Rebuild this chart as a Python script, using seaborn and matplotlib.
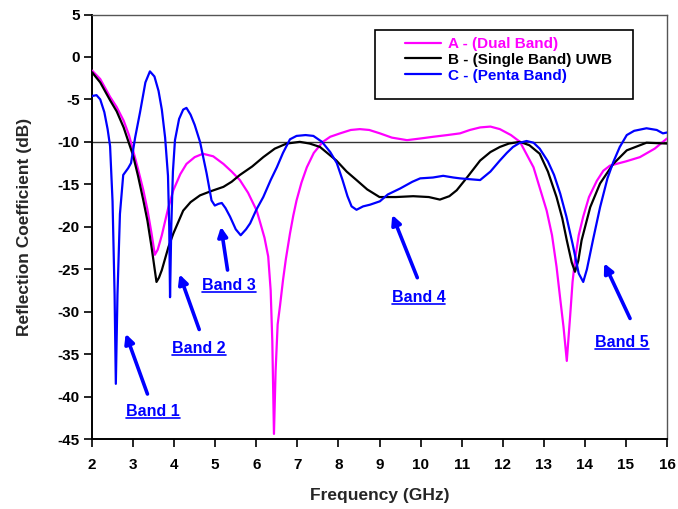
import matplotlib
matplotlib.use("Agg")
from matplotlib import pyplot as plt
from matplotlib.lines import Line2D
from matplotlib.patches import Rectangle
import numpy as np
import pandas
import seaborn as sns

# --- data ---
freq_a = [2.0, 2.2, 2.44, 2.6, 2.77, 2.9, 3.0, 3.12, 3.25, 3.35, 3.45, 3.53, 3.6, 3.7,
          3.85, 3.98, 4.15, 4.3, 4.5, 4.7, 4.95, 5.2, 5.4, 5.6, 5.8, 6.01, 6.1, 6.2,
          6.29, 6.35, 6.39, 6.43, 6.47, 6.52, 6.58, 6.65, 6.72, 6.82, 6.9, 6.98, 7.1,
          7.23, 7.4, 7.62, 7.8, 8.04, 8.3, 8.52, 8.75, 9.01, 9.3, 9.67, 10.0, 10.31,
          10.65, 10.96, 11.2, 11.45, 11.7, 11.93, 12.2, 12.42, 12.75, 13.07, 13.2,
          13.31, 13.4, 13.48, 13.56, 13.64, 13.7, 13.76, 13.85, 13.96, 14.1, 14.29,
          14.45, 14.61, 15.0, 15.34, 15.7, 16.0]
refl_a = [-1.6, -2.6, -4.7, -5.9, -7.5, -9.2, -11.0, -13.2, -15.7, -18.0, -20.8, -23.3,
          -22.7, -21.0, -17.9, -15.7, -13.8, -12.6, -11.8, -11.4, -11.7, -12.6, -13.5,
          -14.5, -16.0, -18.1, -19.6, -21.3, -23.5, -27.5, -33.5, -44.4, -37.0, -31.5,
          -29.2, -26.3, -23.8, -20.8, -18.7, -16.9, -14.8, -13.0, -11.3, -10.0, -9.4,
          -9.0, -8.6, -8.5, -8.6, -9.0, -9.5, -9.8, -9.6, -9.4, -9.2, -9.0, -8.6, -8.3,
          -8.2, -8.5, -9.2, -10.0, -13.0, -18.1, -21.0, -24.7, -28.5, -31.8, -35.8,
          -30.6, -26.5, -23.9, -21.0, -18.8, -16.5, -14.6, -13.4, -12.8, -12.3, -11.8,
          -10.8, -9.6]

freq_b = [2.0, 2.2, 2.44, 2.6, 2.77, 3.0, 3.12, 3.25, 3.35, 3.45, 3.52, 3.57, 3.63,
          3.7, 3.86, 3.98, 4.22, 4.4, 4.63, 4.9, 5.2, 5.4, 5.6, 5.9, 6.17, 6.45, 6.74,
          7.06, 7.3, 7.55, 7.95, 8.2, 8.44, 8.7, 9.0, 9.4, 9.82, 10.2, 10.47, 10.7,
          10.88, 11.13, 11.45, 11.7, 11.93, 12.15, 12.42, 12.65, 12.9, 13.1, 13.31,
          13.45, 13.56, 13.68, 13.76, 13.84, 13.92, 14.13, 14.37, 14.69, 15.02, 15.5,
          16.0]
refl_b = [-1.8, -3.0, -5.1, -6.4, -8.3, -11.6, -14.0, -16.9, -19.3, -22.4, -24.8,
          -26.5, -26.0, -25.1, -22.4, -20.8, -18.1, -17.1, -16.3, -15.8, -15.3, -14.7,
          -13.9, -12.9, -11.8, -10.8, -10.2, -10.0, -10.2, -10.6, -12.2, -13.5, -14.5,
          -15.6, -16.5, -16.5, -16.4, -16.5, -16.8, -16.4, -15.7, -14.2, -12.2, -11.2,
          -10.6, -10.2, -10.0, -10.4, -11.4, -13.5, -16.5, -19.0, -21.6, -24.2, -25.3,
          -24.0, -21.6, -17.7, -14.9, -12.6, -11.0, -10.1, -10.2]

freq_c = [2.0, 2.11, 2.2, 2.3, 2.38, 2.44, 2.5, 2.55, 2.58, 2.62, 2.68, 2.76, 2.88,
          2.95, 3.05, 3.17, 3.3, 3.41, 3.52, 3.62, 3.7, 3.78, 3.85, 3.88, 3.9, 3.93,
          3.97, 4.02, 4.12, 4.22, 4.3, 4.4, 4.5, 4.63, 4.79, 4.91, 4.99, 5.08, 5.16,
          5.25, 5.36, 5.5, 5.62, 5.75, 5.85, 6.0, 6.17, 6.35, 6.5, 6.65, 6.82, 6.98,
          7.2, 7.39, 7.6, 7.8, 7.96, 8.1, 8.22, 8.32, 8.44, 8.6, 8.77, 9.01, 9.2, 9.5,
          9.8, 9.99, 10.3, 10.55, 10.8, 10.96, 11.2, 11.45, 11.7, 11.93, 12.1, 12.25,
          12.42, 12.58, 12.75, 12.9, 13.1, 13.25, 13.4, 13.55, 13.7, 13.85, 13.96,
          14.05, 14.2, 14.37, 14.55, 14.69, 14.85, 15.02, 15.2, 15.5, 15.75, 15.9, 16.0]
refl_c = [-4.6, -4.5, -5.0, -6.5, -8.5, -10.5, -17.0, -28.0, -38.5, -28.0, -18.5,
          -13.9, -13.1, -12.5, -9.5, -6.5, -3.0, -1.7, -2.3, -4.0, -6.2, -9.5, -14.0,
          -20.0, -28.3, -20.0, -13.5, -9.8, -7.3, -6.2, -6.0, -6.8, -8.0, -10.0, -13.7,
          -16.9, -17.5, -17.3, -17.2, -17.8, -18.8, -20.3, -21.0, -20.3, -19.6, -18.0,
          -16.5, -14.5, -13.0, -11.3, -9.7, -9.3, -9.2, -9.3, -10.0, -11.2, -12.5,
          -14.5, -16.4, -17.6, -18.0, -17.6, -17.4, -17.0, -16.2, -15.5, -14.7, -14.3,
          -14.2, -14.0, -14.2, -14.3, -14.4, -14.5, -13.5, -12.2, -11.3, -10.6, -10.1,
          -9.9, -10.1, -10.8, -12.3, -13.9, -16.1, -18.8, -22.0, -25.5, -26.5, -25.0,
          -21.5, -17.7, -14.3, -12.4, -10.6, -9.2, -8.7, -8.4, -8.6, -9.0, -8.9]

labels = ["A - (Dual Band)", "B - (Single Band) UWB", "C - (Penta Band)"]
colors = ["#ff00ff", "#000000", "#0000ff"]

# band annotations: label, text position, arrow tail, arrow head
band_names = ["Band 1", "Band 2", "Band 3", "Band 4", "Band 5"]
band_text = [(3.49, -41.8), (4.61, -34.3), (5.34, -26.9), (9.95, -28.3), (14.9, -33.6)]
band_tail = [(3.35, -39.7), (4.61, -32.1), (5.30, -25.1), (9.92, -26.0), (15.1, -30.8)]
band_head = [(2.82, -32.6), (4.13, -25.6), (5.14, -20.0), (9.31, -18.6), (14.47, -24.3)]

frames = []
for lab, f, r in zip(labels, [freq_a, freq_b, freq_c], [refl_a, refl_b, refl_c]):
    frames.append(pandas.DataFrame({"Frequency": f, "Reflection": r, "Antenna": lab}))
df = pandas.concat(frames, ignore_index=True)

sns.set_style("ticks")
plt.rcParams['font.family'] = ['Liberation Sans', 'DejaVu Sans']
plt.rcParams['font.weight'] = 'bold'
plt.rcParams['axes.labelweight'] = 'bold'
plt.rcParams['axes.unicode_minus'] = False

fig, ax1 = plt.subplots(figsize=(6.78, 5.09), dpi=100)
fig.subplots_adjust(left=0.1357, right=0.9838, bottom=0.1375, top=0.9715)

ax1.axhline(-10, color='#333333', linewidth=1.0, zorder=1)
g = sns.lineplot(data=df, x="Frequency", y="Reflection", hue="Antenna",
                 palette=dict(zip(labels, colors)), sort=False, estimator=None,
                 linewidth=1.6, ax=ax1, zorder=3)

ax1.set_xlim(2, 16)
ax1.set_ylim(-45, 5)
ax1.set_xticks(np.arange(2, 17, 1))
ax1.set_yticks(np.arange(-45, 6, 5))
ax1.tick_params(direction='out', length=6, width=1.2, labelsize=11, colors='black')
ax1.tick_params(axis='x', pad=8)
ax1.tick_params(axis='y', pad=3)
for lab in ax1.get_xticklabels() + ax1.get_yticklabels():
    lab.set_fontweight('bold')
ax1.set_xlabel('Frequency (GHz)', fontsize=12.5, fontweight='bold', labelpad=11)
ax1.set_ylabel('Reflection Coefficient (dB)', fontsize=12.5, fontweight='bold', labelpad=18)

for side in ['left', 'bottom']:
    ax1.spines[side].set_color('black')
    ax1.spines[side].set_linewidth(1.4)
for side in ['top', 'right']:
    ax1.spines[side].set_color('#555555')
    ax1.spines[side].set_linewidth(1.0)

# legend frame drawn separately, the box is wider than the entries
ax1.add_patch(Rectangle((0.492, 0.801), 0.449, 0.1625, transform=ax1.transAxes,
                        facecolor='white', edgecolor='black', linewidth=1.2, zorder=4))
leg = ax1.legend(loc='upper left', bbox_to_anchor=(0.544, 0.947), frameon=False,
                 handlelength=2.4, borderpad=0, labelspacing=0.12, handletextpad=0.4,
                 prop={'size': 11, 'weight': 'bold'}, borderaxespad=0)
leg.set_zorder(5)
for txt, c in zip(leg.get_texts(), colors):
    txt.set_color(c)
for h in leg.get_lines():
    h.set_linewidth(1.6)

band_texts = []
for name, pos, tail, head in zip(band_names, band_text, band_tail, band_head):
    ax1.annotate('', xy=head, xytext=tail,
                 arrowprops=dict(arrowstyle='-|>', color='#0000ff', lw=2.6,
                                 mutation_scale=14, shrinkA=0, shrinkB=0))
    t = ax1.text(pos[0], pos[1], name, color='#0000ff', fontsize=11.5,
                 fontweight='bold', ha='center', va='center')
    band_texts.append(t)

# underline the band labels
fig.canvas.draw()
renderer = fig.canvas.get_renderer()
inv = fig.transFigure.inverted()
for t in band_texts:
    bb = t.get_window_extent(renderer)
    (x0, y0), (x1, y1) = inv.transform([(bb.x0, bb.y0 + 1), (bb.x1, bb.y0 + 1)])
    fig.add_artist(Line2D([x0, x1], [y0, y1], color='#0000ff', linewidth=1.2))

fig.savefig('out.png', dpi=100)
